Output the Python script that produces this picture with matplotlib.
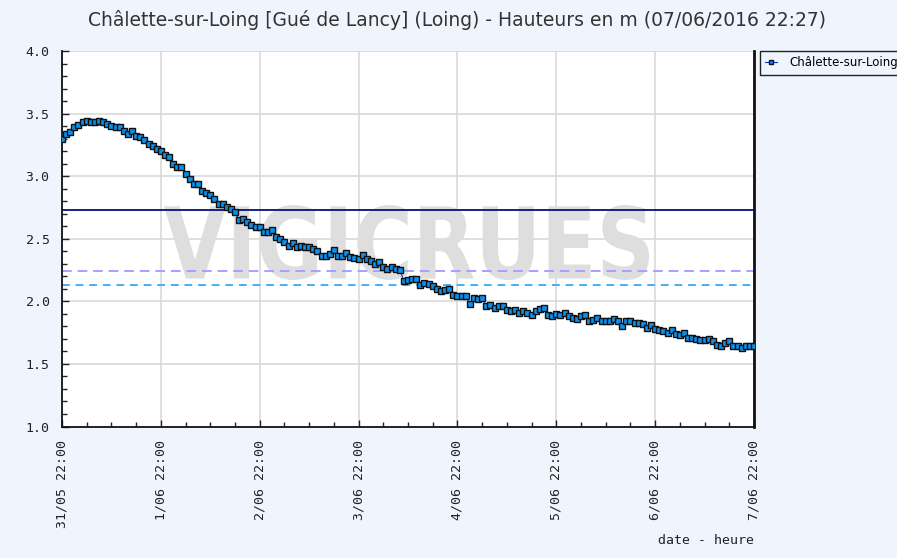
import matplotlib
matplotlib.use("Agg")
import matplotlib.pyplot as plt
import numpy as np
from matplotlib.textpath import TextPath
from matplotlib.patches import PathPatch
from matplotlib.font_manager import FontProperties
from matplotlib.transforms import Affine2D
from matplotlib.ticker import MultipleLocator

# hauteurs horaires (m) du 31/05 22:00 au 7/06 22:00
hauteurs = [
    3.30, 3.34, 3.35, 3.39, 3.41, 3.435, 3.44, 3.435, 3.435, 3.44, 3.435, 3.42,
    3.40, 3.395, 3.39, 3.36, 3.34, 3.36, 3.32, 3.31, 3.29, 3.26, 3.24, 3.22,
    3.20, 3.17, 3.15, 3.10, 3.07, 3.07, 3.02, 2.98, 2.94, 2.94, 2.88, 2.865,
    2.85, 2.82, 2.78, 2.78, 2.75, 2.74, 2.71, 2.65, 2.66, 2.63, 2.61, 2.59,
    2.59, 2.55, 2.55, 2.57, 2.515, 2.495, 2.475, 2.44, 2.47, 2.435, 2.44, 2.435,
    2.435, 2.42, 2.40, 2.36, 2.36, 2.38, 2.41, 2.36, 2.36, 2.39, 2.355, 2.35,
    2.34, 2.37, 2.34, 2.32, 2.30, 2.315, 2.275, 2.26, 2.275, 2.255, 2.25, 2.165,
    2.17, 2.18, 2.175, 2.13, 2.15, 2.14, 2.12, 2.10, 2.08, 2.09, 2.095, 2.05,
    2.04, 2.045, 2.04, 1.98, 2.025, 2.015, 2.025, 1.96, 1.97, 1.945, 1.965, 1.965,
    1.93, 1.92, 1.93, 1.91, 1.925, 1.905, 1.89, 1.925, 1.935, 1.945, 1.89, 1.88,
    1.90, 1.89, 1.905, 1.88, 1.87, 1.86, 1.88, 1.89, 1.845, 1.85, 1.865, 1.845,
    1.845, 1.845, 1.86, 1.84, 1.80, 1.845, 1.84, 1.83, 1.825, 1.82, 1.79, 1.81,
    1.78, 1.77, 1.76, 1.745, 1.77, 1.74, 1.73, 1.75, 1.71, 1.705, 1.70, 1.695,
    1.69, 1.70, 1.68, 1.65, 1.64, 1.67, 1.68, 1.645, 1.64, 1.625, 1.64, 1.645,
    1.645,
]
jours = ["31/05 22:00", "1/06 22:00", "2/06 22:00", "3/06 22:00",
         "4/06 22:00", "5/06 22:00", "6/06 22:00", "7/06 22:00"]
seuils = [2.73, 2.24, 2.13]
seuils_couleurs = ["#1c1c85", "#a3a3ff", "#3fb0ff"]
seuils_styles = ["-", (0, (5, 3)), (0, (4, 3))]

titre = "Châlette-sur-Loing [Gué de Lancy] (Loing) - Hauteurs en m (07/06/2016 22:27)"
station = "Châlette-sur-Loing"
fond = "#eff4fd"

fig = plt.figure(figsize=(8.97, 5.58), dpi=100, facecolor=fond)
ax = fig.add_axes([62 / 897, 1 - 426.5 / 558, (754 - 62) / 897, (426.5 - 51) / 558])
ax.set_facecolor("white")

heures = np.arange(len(hauteurs))

# filigrane VIGICRUES
tp = TextPath((0, 0), "VIGICRUES", size=100,
              prop=FontProperties(family="DejaVu Sans", weight="bold"))
ext = tp.get_extents()
sx = 485 / ext.width
sy = 75 / ext.height
tr = Affine2D().translate(-ext.x0, -ext.y0).scale(sx, sy).translate(164, 558 - 280)
wm = PathPatch(tp, transform=tr, facecolor="#dedede", edgecolor="none", zorder=0.8)
ax.add_patch(wm)

for niv, c, ls in zip(seuils, seuils_couleurs, seuils_styles):
    ax.axhline(niv, color=c, lw=1.4, ls=ls, zorder=1.8)

ax.plot(heures, hauteurs, color="#1030d0", lw=0.8, marker="s", ms=4.8,
        mfc="#0a90ee", mec="#111111", mew=1.0, zorder=3, label=station)

ax.set_xlim(0, 168)
ax.set_ylim(1.0, 4.0)
ax.xaxis.set_minor_locator(MultipleLocator(6))
ax.yaxis.set_minor_locator(MultipleLocator(0.1))
ax.set_xticks(np.arange(0, 169, 24))
ax.set_xticklabels(jours)
ax.set_yticks(np.arange(1.0, 4.01, 0.5))
ax.set_yticklabels([f"{v:.1f}" for v in np.arange(1.0, 4.01, 0.5)])

mono = "DejaVu Sans Mono"
for lab in ax.get_xticklabels():
    lab.set_rotation(90)
    lab.set_family(mono)
    lab.set_fontsize(9.5)
    lab.set_va("top")
    lab.set_ha("center")
for lab in ax.get_yticklabels():
    lab.set_family(mono)
    lab.set_fontsize(9.5)

ax.tick_params(axis="both", which="major", direction="in", length=5, width=1,
               color="#222222", labelcolor="#222222")
ax.tick_params(axis="both", which="minor", direction="in", length=3.5, width=1,
               color="#222222")
ax.tick_params(axis="x", which="major", pad=10)
ax.tick_params(axis="y", which="major", pad=9)

ax.grid(True, which="major", color="#d9d9d9", lw=1.2)
ax.set_axisbelow(True)

ax.spines["top"].set_visible(False)
for s in ["left", "bottom"]:
    ax.spines[s].set_color("#111111")
    ax.spines[s].set_linewidth(1.3)
ax.spines["right"].set_color("#111111")
ax.spines["right"].set_linewidth(2)

fig.text(754 / 897, 1 - 541 / 558, "date - heure", family=mono, fontsize=9.5,
         ha="right", va="center", color="#222222")
fig.text(457 / 897, 1 - 20 / 558, titre, fontsize=13.5, ha="center", va="center",
         color="#333333")

leg = ax.legend(loc="upper left", bbox_to_anchor=(760 / 897, 1 - 51 / 558),
                bbox_transform=fig.transFigure, fontsize=8.5, frameon=True,
                fancybox=False, edgecolor="#222222", facecolor=fond, framealpha=1,
                handlelength=1.0, handletextpad=1.0, borderpad=0.45,
                borderaxespad=0, markerscale=0.7)
leg.get_frame().set_linewidth(1)

fig.savefig("out.png", dpi=100, facecolor=fond)
